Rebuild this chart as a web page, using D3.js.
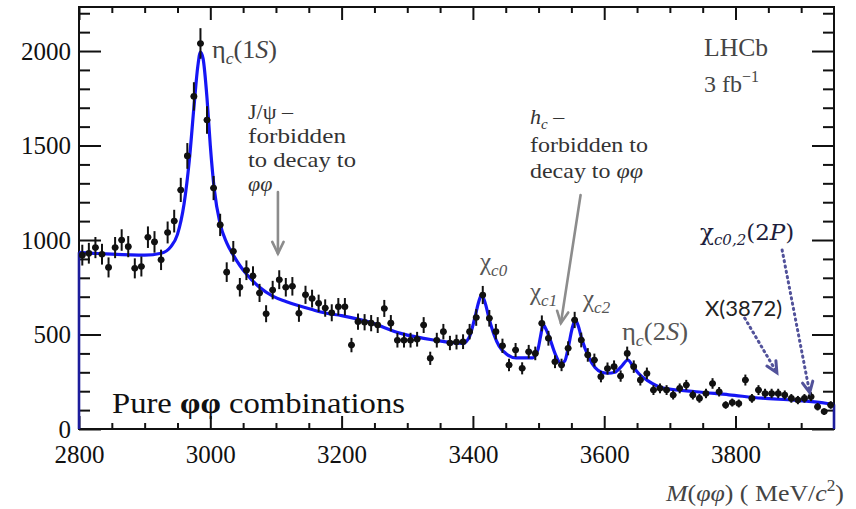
<!DOCTYPE html>
<html>
<head>
<meta charset="utf-8">
<script src="https://cdn.jsdelivr.net/npm/d3@7/dist/d3.min.js"></script>
<style>
  html, body { margin: 0; padding: 0; background: #fff; }
  svg { display: block; }
  text { font-family: "Liberation Serif", "DejaVu Serif", serif; }
</style>
</head>
<body>
<svg id="chart" width="856" height="509"></svg>
<script>
// Bin centres of the phi-phi invariant mass histogram (MeV/c^2)
const massBins = [
  2805,2815,2825,2835,2845,2855,2865,2875,2885,2895,2905,2915,2925,2935,2945,2955,2965,2975,2985,2995,
  3005,3015,3025,3035,3045,3055,3065,3075,3085,3095,3105,3115,3125,3135,3145,3155,3165,3175,3185,3195,
  3205,3215,3225,3235,3245,3255,3265,3275,3285,3295,3305,3315,3325,3335,3345,3355,3365,3375,3385,3395,
  3405,3415,3425,3435,3445,3455,3465,3475,3485,3495,3505,3515,3525,3535,3545,3555,3565,3575,3585,3595,
  3605,3615,3625,3635,3645,3655,3665,3675,3685,3695,3705,3715,3725,3735,3745,3755,3765,3775,3785,3795,
  3805,3815,3825,3835,3845,3855,3865,3875,3885,3895,3905,3915,3925,3935,3945
];
const binHalfWidth = 5;

// Candidates per bin
const counts = [
  920,930,960,925,855,960,1000,965,850,860,1015,990,895,1040,1100,1265,1445,1760,2040,1635,
  1275,1080,830,940,750,840,810,720,610,735,790,750,755,612,710,690,665,640,615,647,
  647,444,568,565,560,550,638,560,470,470,470,475,550,374,470,515,455,460,462,515,
  590,709,586,515,440,339,418,321,409,400,559,480,356,339,427,577,471,392,365,277,
  320,330,280,400,330,259,294,206,215,206,180,215,233,180,162,188,241,197,127,140,
  135,259,162,206,188,188,188,180,162,153,162,171,118,92,127
];

// Statistical uncertainty per bin
const errors = [
  55,55,56,55,53,56,57,56,53,53,57,57,54,58,60,64,68,75,81,73,
  64,59,52,55,49,52,51,48,45,49,50,49,49,45,48,47,46,46,45,46,
  46,38,43,43,43,42,45,43,39,39,39,39,42,35,39,41,38,39,39,41,
  44,48,44,41,38,33,37,32,36,36,42,39,34,33,37,43,39,36,34,30,
  32,33,30,36,33,29,31,26,26,26,24,26,27,24,23,25,28,25,20,21,
  21,29,23,26,25,25,25,24,23,22,23,24,20,17,20
];

// Fit model (signal peaks on a smooth background), sampled along the mass axis
const fitMass = [
  2800,2850,2900,2925,2940,2950,2960,2968,2975,2981,2985,2989,2995,3000,3006,3015,3025,3035,3045,3055,
  3075,3095,3115,3135,3155,3175,3200,3240,3290,3340,3385,3395,3403,3409,3413,3418,3425,3432,3440,3450,
  3466,3491,3499,3503,3507,3511,3517,3525,3534,3540,3545,3551,3556,3560,3566,3576,3586,3596,3606,3616,
  3626,3636,3645,3655,3665,3690,3740,3790,3840,3890,3940,3950
];
const fitValue = [
  935,925,920,930,965,1030,1190,1420,1700,1920,1995,1960,1750,1500,1270,1085,985,920,865,820,
  750,703,675,652,632,614,600,568,506,471,453,490,590,675,708,675,580,500,438,400,
  376,376,420,490,552,530,480,400,348,360,427,530,578,550,475,383,325,300,295,300,
  330,365,325,285,259,217,197,181,163,152,135,130
];

// Axis ticks
const xMajorTicks = [2800, 3000, 3200, 3400, 3600, 3800];
const xMinorTicks = [2850,2900,2950,3050,3100,3150,3250,3300,3350,3450,3500,3550,3650,3700,3750,3850,3900];
const yMajorTicks = [0, 500, 1000, 1500, 2000];
const yMinorTicks = [100,200,300,400,600,700,800,900,1100,1200,1300,1400,1600,1700,1800,1900,2100,2200];

const svg = d3.select("#chart");
const plot = { left: 79, right: 834, top: 7, bottom: 429 };

const x = d3.scaleLinear().domain([2800, 3950]).range([plot.left, plot.right]);
const y = d3.scaleLinear().domain([0, 2233]).range([plot.bottom, plot.top]);

const ink = "#111";

// ---- axes (ticks point into the frame on all four sides) ----
function styleAxis(g) {
  g.select(".domain").remove();
  g.selectAll(".tick line").attr("stroke", ink).attr("stroke-width", 2);
  g.selectAll(".tick text").attr("fill", ink)
    .style("font-family", '"Liberation Serif", serif').style("font-size", "25px");
}
svg.append("g").attr("transform", `translate(0,${plot.bottom})`)
  .call(d3.axisBottom(x).tickValues(xMajorTicks).tickSize(-13).tickPadding(16).tickFormat(d3.format("d")))
  .call(styleAxis);
svg.append("g").attr("transform", `translate(0,${plot.bottom})`)
  .call(d3.axisBottom(x).tickValues(xMinorTicks).tickSize(-6).tickFormat(""))
  .call(styleAxis);
svg.append("g").attr("transform", `translate(0,${plot.top})`)
  .call(d3.axisTop(x).tickValues(xMajorTicks).tickSize(-13).tickFormat(""))
  .call(styleAxis);
svg.append("g").attr("transform", `translate(0,${plot.top})`)
  .call(d3.axisTop(x).tickValues(xMinorTicks).tickSize(-6).tickFormat(""))
  .call(styleAxis);
svg.append("g").attr("transform", `translate(${plot.left},0)`)
  .call(d3.axisLeft(y).tickValues(yMajorTicks).tickSize(-22).tickPadding(8).tickFormat(d3.format("d")))
  .call(styleAxis);
svg.append("g").attr("transform", `translate(${plot.left},0)`)
  .call(d3.axisLeft(y).tickValues(yMinorTicks).tickSize(-11).tickFormat(""))
  .call(styleAxis);
svg.append("g").attr("transform", `translate(${plot.right},0)`)
  .call(d3.axisRight(y).tickValues(yMajorTicks).tickSize(-22).tickFormat(""))
  .call(styleAxis);
svg.append("g").attr("transform", `translate(${plot.right},0)`)
  .call(d3.axisRight(y).tickValues(yMinorTicks).tickSize(-11).tickFormat(""))
  .call(styleAxis);

svg.append("rect")
  .attr("x", plot.left).attr("y", plot.top)
  .attr("width", plot.right - plot.left).attr("height", plot.bottom - plot.top)
  .attr("fill", "none").attr("stroke", ink).attr("stroke-width", 2);

// ---- fit curve ----
const fitBlue = "#1616f5";
const fitPts = fitMass.map((m, i) => [m, fitValue[i]]);
const fitLine = d3.line().x(d => x(d[0])).y(d => y(d[1])).curve(d3.curveMonotoneX);
svg.append("path").datum(fitPts)
  .attr("d", fitLine).attr("fill", "none")
  .attr("stroke", fitBlue).attr("stroke-width", 3.2).attr("stroke-linejoin", "round");
// the fit outline closes down to zero at both ends of the range
const edges = [fitPts[0], fitPts[fitPts.length - 1]];
svg.append("g").selectAll("line").data(edges).join("line")
  .attr("x1", d => x(d[0])).attr("x2", d => x(d[0]))
  .attr("y1", y(0)).attr("y2", d => y(d[1]))
  .attr("stroke", "#1c1c9c").attr("stroke-width", 2.6);

// ---- data points with error bars ----
const data = massBins.map((m, i) => ({ m, n: counts[i], e: errors[i] }));
const pts = svg.append("g").attr("stroke", ink).attr("stroke-width", 2);
pts.selectAll("line.v").data(data).join("line").attr("class", "v")
  .attr("x1", d => x(d.m)).attr("x2", d => x(d.m))
  .attr("y1", d => y(d.n - d.e)).attr("y2", d => y(d.n + d.e));
pts.selectAll("line.h").data(data).join("line").attr("class", "h")
  .attr("x1", d => x(d.m - binHalfWidth)).attr("x2", d => x(d.m + binHalfWidth))
  .attr("y1", d => y(d.n)).attr("y2", d => y(d.n));
svg.append("g").selectAll("circle").data(data).join("circle")
  .attr("cx", d => x(d.m)).attr("cy", d => y(d.n)).attr("r", 3.3).attr("fill", ink);

// ---- text helpers ----
function richText(px, py, parts, opts = {}) {
  const size = opts.size || 22;
  const t = svg.append("text").attr("x", px).attr("y", py)
    .attr("fill", opts.fill || "#444")
    .style("font-size", size + "px")
    .style("font-family", opts.family || '"Liberation Serif", serif');
  if (opts.anchor) t.attr("text-anchor", opts.anchor);
  if (opts.width) t.attr("textLength", opts.width).attr("lengthAdjust", "spacingAndGlyphs");
  let shift = 0;
  parts.forEach(p => {
    const s = typeof p === "string" ? { t: p } : p;
    const target = s.sub ? Math.round(size * 0.22) : s.sup ? -Math.round(size * 0.4) : 0;
    const ts = t.append("tspan").text(s.t).attr("dy", target - shift);
    shift = target;
    if (s.sub || s.sup) ts.style("font-size", Math.round(size * 0.66) + "px");
    if (s.it) ts.style("font-style", "italic");
    if (s.bold) ts.style("font-weight", "bold");
  });
  return t;
}

function arrow(m1, v1, m2, v2, style) {
  const x1 = x(m1), y1 = y(v1), x2 = x(m2), y2 = y(v2);
  const g = svg.append("g").attr("fill", "none").attr("stroke", style.color)
    .attr("stroke-width", style.width).attr("stroke-linecap", "round");
  const line = g.append("line").attr("x1", x1).attr("y1", y1).attr("x2", x2).attr("y2", y2);
  if (style.dash) line.attr("stroke-dasharray", style.dash);
  const a = Math.atan2(y2 - y1, x2 - x1), L = style.head, w = 0.45;
  g.append("path").attr("stroke-linejoin", "miter")
    .attr("d", `M${x2 - L * Math.cos(a - w)},${y2 - L * Math.sin(a - w)} L${x2},${y2} L${x2 - L * Math.cos(a + w)},${y2 - L * Math.sin(a + w)}`);
}

// ---- resonance labels ----
richText(212, 58, ["η", { t: "c", sub: true, it: true }, "(1", { t: "S", it: true }, ")"], { size: 25, width: 65 });
richText(480, 270, ["χ", { t: "c0", sub: true, it: true }], { size: 25, fill: "#555" });
richText(530, 300, ["χ", { t: "c1", sub: true, it: true }], { size: 25, fill: "#555" });
richText(583, 307, ["χ", { t: "c2", sub: true, it: true }], { size: 25, fill: "#555" });
richText(622, 340, ["η", { t: "c", sub: true, it: true }, "(2", { t: "S", it: true }, ")"], { size: 25, fill: "#555", width: 66 });

// forbidden states
const noteFill = "#333";
richText(248, 119, ["J/ψ –"], { size: 22, fill: noteFill });
richText(248, 143, ["forbidden"], { size: 22, fill: noteFill, width: 98 });
richText(248, 167, ["to decay to"], { size: 22, fill: noteFill, width: 108 });
richText(248, 191, [{ t: "φφ", it: true }], { size: 22, fill: noteFill });
arrow(3103, 1254, 3103, 928, { color: "#8c8c8c", width: 2.6, head: 13 });

richText(530, 124, [{ t: "h", it: true }, { t: "c", sub: true, it: true }, " –"], { size: 22, fill: noteFill });
richText(530, 152, ["forbidden to"], { size: 22, fill: noteFill, width: 118 });
richText(530, 178, ["decay to ", { t: "φφ", it: true }], { size: 22, fill: noteFill, width: 113 });
arrow(3564, 1238, 3534, 560, { color: "#8c8c8c", width: 2.6, head: 13 });

// experiment tag
richText(704, 56, ["LHCb"], { size: 25, fill: "#444", width: 64 });
richText(704, 92, ["3 fb", { t: "−1", sup: true }], { size: 24, fill: "#444" });

// exotic candidates
richText(700, 240, ["χ", { t: "c0,2", sub: true, it: true }, "(2", { t: "P", it: true }, ")"],
  { size: 23, fill: "#1e1e3c", family: '"DejaVu Serif", serif' });
richText(705, 316, ["X(3872)"], { size: 22, fill: "#222", family: "Lato, 'Open Sans', sans-serif" });
const dotted = { color: "#52529a", width: 3, dash: "1.2,4.2", head: 12 };
arrow(3871, 947, 3913, 192, dotted);
arrow(3814, 587, 3863, 298, dotted);

// sample description and axis title
richText(112, 413, ["Pure ", { t: "φφ", bold: true }, " combinations"], { size: 30, fill: "#111", width: 293 });
richText(844, 501, [{ t: "M", it: true }, "(", { t: "φφ", it: true }, ")  ( MeV/", { t: "c", it: true }, { t: "2", sup: true }, ")"],
  { size: 24, fill: "#444", anchor: "end", width: 178 });
</script>
</body>
</html>
